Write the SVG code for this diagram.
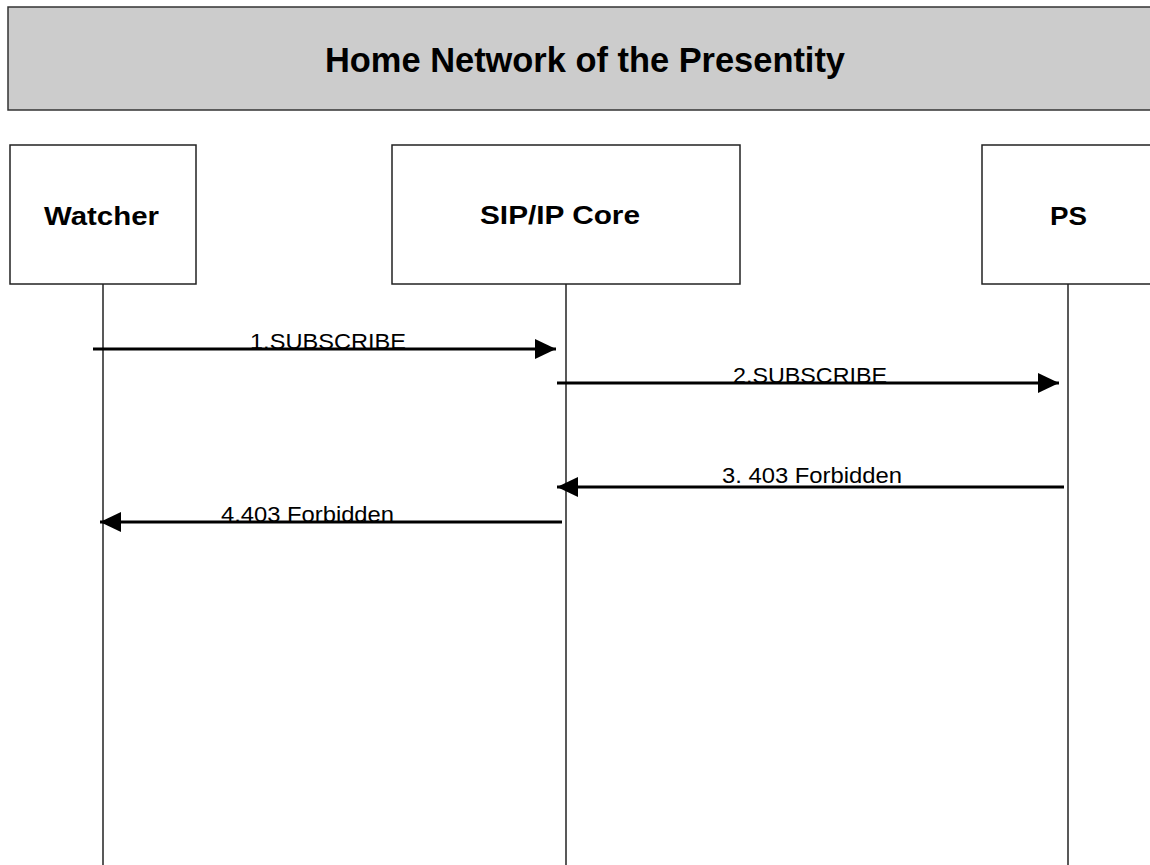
<svg xmlns="http://www.w3.org/2000/svg" width="1150" height="865" viewBox="0 0 1150 865">
  <defs>
    <style>
      .box { fill: #ffffff; stroke: #222222; stroke-width: 1.5; }
      .life { stroke: #222222; stroke-width: 1.5; fill: none; }
      .msg { stroke: #000000; stroke-width: 3; fill: none; }
      .node-label { font-family: "Liberation Sans", Arial, sans-serif; font-weight: bold; font-size: 25px; fill: #000000; }
      .msg-label { font-family: "Liberation Sans", Arial, sans-serif; font-size: 22px; fill: #000000; }
      .title { font-family: "Liberation Sans", Arial, sans-serif; font-weight: bold; font-size: 35px; fill: #000000; }
    </style>
    <marker id="arrow" markerUnits="userSpaceOnUse" markerWidth="21" markerHeight="20" refX="21" refY="10" orient="auto">
      <path d="M0,0 L21,10 L0,20 Z" fill="#000000"/>
    </marker>
  </defs>
  <rect width="1150" height="865" fill="#ffffff"/>

  <g id="header">
    <rect x="8" y="7" width="1160" height="103" fill="#cccccc" stroke="#333333" stroke-width="1.5"/>
    <text class="title" x="325" y="72" textLength="520" lengthAdjust="spacingAndGlyphs">Home Network of the Presentity</text>
  </g>

  <g id="lifelines">
    <line class="life" x1="103" y1="284" x2="103" y2="865"/>
    <line class="life" x1="566" y1="284" x2="566" y2="865"/>
    <line class="life" x1="1068" y1="284" x2="1068" y2="865"/>
  </g>

  <g id="watcher">
    <rect class="box" x="10" y="145" width="186" height="139"/>
    <text class="node-label" x="44" y="225" textLength="115" lengthAdjust="spacingAndGlyphs">Watcher</text>
  </g>
  <g id="sip-ip-core">
    <rect class="box" x="392" y="145" width="348" height="139"/>
    <text class="node-label" x="480" y="224" textLength="160" lengthAdjust="spacingAndGlyphs">SIP/IP Core</text>
  </g>
  <g id="ps">
    <rect class="box" x="982" y="145" width="180" height="139"/>
    <text class="node-label" x="1050" y="225" textLength="37" lengthAdjust="spacingAndGlyphs">PS</text>
  </g>

  <g id="connectors">
    <line class="msg" x1="93" y1="349" x2="556" y2="349" marker-end="url(#arrow)"/>
    <text class="msg-label" x="250" y="349" textLength="156" lengthAdjust="spacingAndGlyphs">1.SUBSCRIBE</text>

    <line class="msg" x1="557" y1="383" x2="1059" y2="383" marker-end="url(#arrow)"/>
    <text class="msg-label" x="733" y="383" textLength="154" lengthAdjust="spacingAndGlyphs">2.SUBSCRIBE</text>

    <line class="msg" x1="1064" y1="487" x2="557" y2="487" marker-end="url(#arrow)"/>
    <text class="msg-label" x="722" y="483" textLength="180" lengthAdjust="spacingAndGlyphs">3. 403 Forbidden</text>

    <line class="msg" x1="562" y1="522" x2="100" y2="522" marker-end="url(#arrow)"/>
    <text class="msg-label" x="221" y="522" textLength="173" lengthAdjust="spacingAndGlyphs">4.403 Forbidden</text>
  </g>
</svg>
